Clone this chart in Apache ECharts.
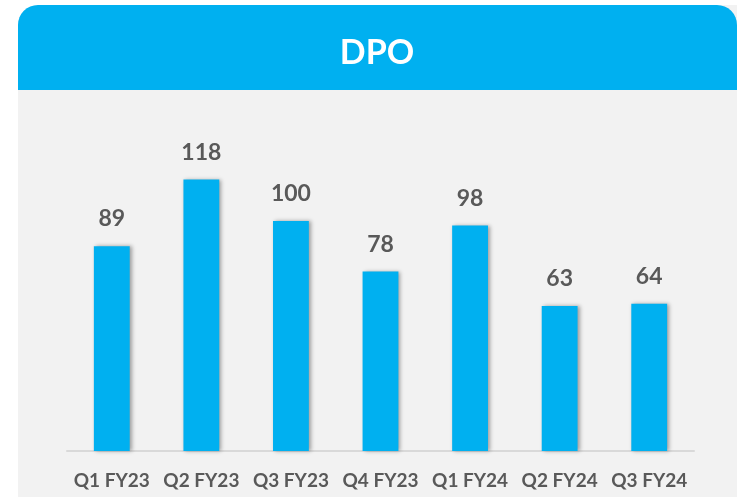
<!DOCTYPE html>
<html>
<head>
<meta charset="utf-8">
<script src="https://cdn.jsdelivr.net/npm/echarts@6/dist/echarts.min.js"></script>
<style>
    html, body { margin: 0; padding: 0; background: #fff; }
    #chart { width: 737px; height: 497px; }
</style>
</head>
<body>
<div id="chart"></div>
<script>
const quarters = ['Q1 FY23', 'Q2 FY23', 'Q3 FY23', 'Q4 FY23', 'Q1 FY24', 'Q2 FY24', 'Q3 FY24'];
const dpoDays = [89, 118, 100, 78, 98, 63, 64];

const blue = '#00B0F0';
const textGray = '#595959';
const fontName = 'Lato';

echarts.init(document.getElementById('chart')).setOption({
    animation: false,
    graphic: [
        {
            type: 'rect',
            z: -10,
            shape: { x: 18, y: 5, width: 740, height: 500, r: [20, 20, 0, 0] },
            style: { fill: '#F2F2F2' }
        },
        {
            type: 'rect',
            z: -5,
            shape: { x: 18, y: 5, width: 719, height: 85, r: [20, 20, 0, 0] },
            style: { fill: blue }
        },
        {
            type: 'text',
            x: 377,
            y: 53,
            style: {
                text: 'DPO',
                fill: '#fff',
                font: 'bold 34px "' + fontName + '"',
                textAlign: 'center',
                textVerticalAlign: 'middle'
            }
        }
    ],
    grid: {
        left: 67,
        right: 43,
        top: 129,
        bottom: 46
    },
    xAxis: {
        type: 'category',
        data: quarters,
        axisTick: { show: false },
        axisLine: { lineStyle: { color: '#D9D9D9', width: 2 } },
        axisLabel: {
            interval: 0,
            color: textGray,
            fontFamily: fontName,
            fontWeight: 'bold',
            fontSize: 19,
            margin: 20
        }
    },
    yAxis: {
        type: 'value',
        min: 0,
        max: 140,
        show: false,
        splitLine: { show: false }
    },
    series: [
        {
            type: 'bar',
            data: dpoDays,
            barWidth: '40%',
            itemStyle: {
                color: blue,
                shadowBlur: 4,
                shadowOffsetX: 2,
                shadowOffsetY: 0,
                shadowColor: 'rgba(0, 0, 0, 0.35)'
            },
            label: {
                show: true,
                position: 'top',
                distance: 16,
                color: textGray,
                fontFamily: fontName,
                fontWeight: 'bold',
                fontSize: 23
            }
        }
    ]
});
</script>
</body>
</html>
